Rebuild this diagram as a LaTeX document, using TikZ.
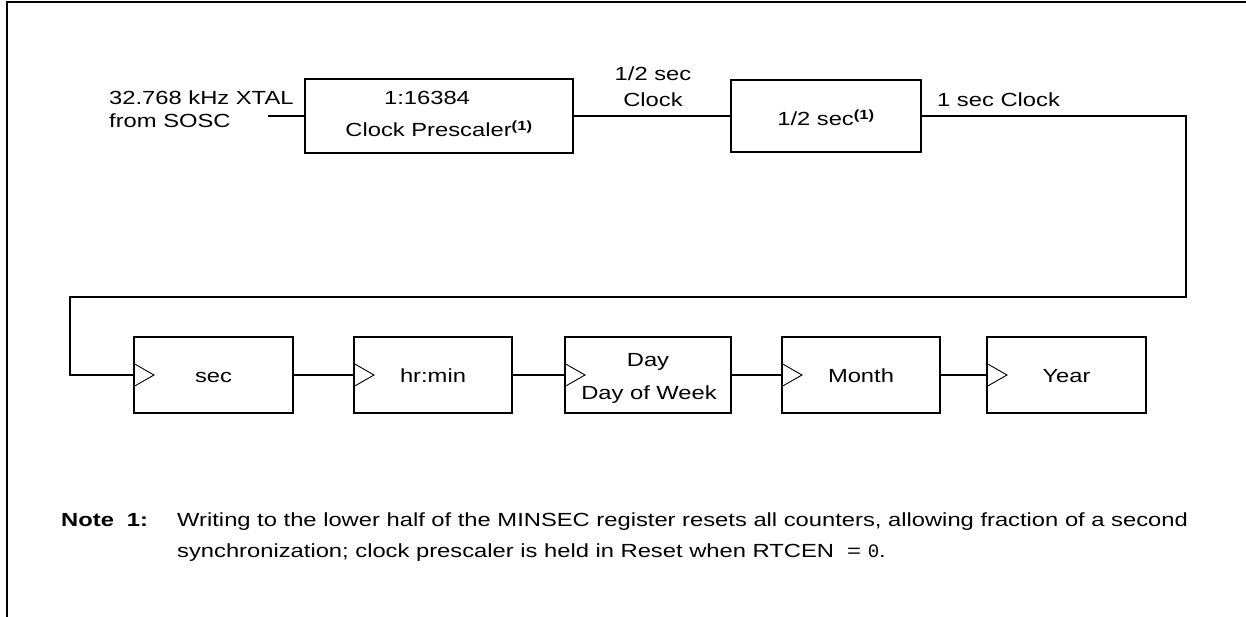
\documentclass[tikz,border=0pt]{standalone}
\usepackage{fontspec}
\setmainfont{Liberation Sans}[FakeStretch=1.25]
\setmonofont{Liberation Mono}
\newcommand{\fnref}{\textsuperscript{\bfseries(1)}}
\begin{document}
\begin{tikzpicture}[x=1pt,y=-1pt,
  font=\fontsize{19}{23}\selectfont,
  blk/.style={draw, line width=2pt, inner sep=0pt},
  toprow/.style={blk, minimum height=74pt},
  botrow/.style={blk, minimum height=76pt},
  wire/.style={line width=2pt},
  clk/.style={line width=0.9pt},
  txt/.style={inner sep=0pt, anchor=base}]
\useasboundingbox (0,0) rectangle (1246,617);
% frame
\draw[line width=2pt] (7,620) -- (7,2) -- (1250,2);
% top row boxes
\node[toprow, minimum width=268pt] (pre) at (439,116) {};
\node[toprow, minimum width=190pt, minimum height=72pt] (half) at (826,116) {};
\node[txt] (pre1) at (427,105) {1:16384};
\node[txt] (pre2) at (439,137) {Clock Prescaler\fnref};
\node[txt] (half1) at (826,126) {1/2 sec\fnref};
% bottom row boxes
\node[botrow, minimum width=159pt] (sec) at (213.5,375) {};
\node[botrow, minimum width=158pt] (hm) at (433,375) {};
\node[botrow, minimum width=166pt] (day) at (648,375) {};
\node[botrow, minimum width=158pt] (mon) at (861,375) {};
\node[botrow, minimum width=159pt] (yr) at (1066.5,375) {};
\node[txt] (sect) at (213.5,382) {sec};
\node[txt] (hmt) at (433,382) {hr:min};
\node[txt] (dayt1) at (648,366) {Day};
\node[txt] (dayt2) at (649,399) {Day of Week};
\node[txt] (mont) at (861,382) {Month};
\node[txt] (yrt) at (1066.5,382) {Year};
\foreach \n in {sec,hm,day,mon,yr}{
  \draw[clk] ([yshift=12pt]\n.west) -- ([xshift=21pt]\n.west) -- ([yshift=-12pt]\n.west);
}
% labels
\node[txt, anchor=base west] (xtal1) at (109,105) {32.768 kHz XTAL};
\node[txt, anchor=base west] (xtal2) at (109,128) {from SOSC};
\node[txt] (hclk1) at (653,81) {1/2 sec};
\node[txt] (hclk2) at (653,107) {Clock};
\node[txt, anchor=base west] (sclk) at (937,107) {1 sec Clock};
% wires
\coordinate (in) at (268,116);
\coordinate (r1) at (1186,116);
\coordinate (r2) at (1186,297);
\coordinate (l1) at (70,297);
\coordinate (l2) at (70,375);
\draw[wire] (in) -- (pre.west);
\draw[wire] (pre.east) -- (half.west);
\draw[wire] (half.east) -- (r1) -- (r2) -- (l1) -- (l2) -- (sec.west);
\draw[wire] (sec.east) -- (hm.west);
\draw[wire] (hm.east) -- (day.west);
\draw[wire] (day.east) -- (mon.west);
\draw[wire] (mon.east) -- (yr.west);
% note
\node[txt, anchor=base west, font=\fontsize{19}{23}\bfseries] (note) at (61,526) {Note\hspace{13pt}1:};
\node[txt, anchor=base west] (n1) at (177,526) {Writing to the lower half of the MINSEC register resets all counters, allowing fraction of a second};
\node[txt, anchor=base west] (n2) at (177,557) {synchronization; clock prescaler is held in Reset when RTCEN\ \ = {\ttfamily 0}.};
\end{tikzpicture}
\end{document}
